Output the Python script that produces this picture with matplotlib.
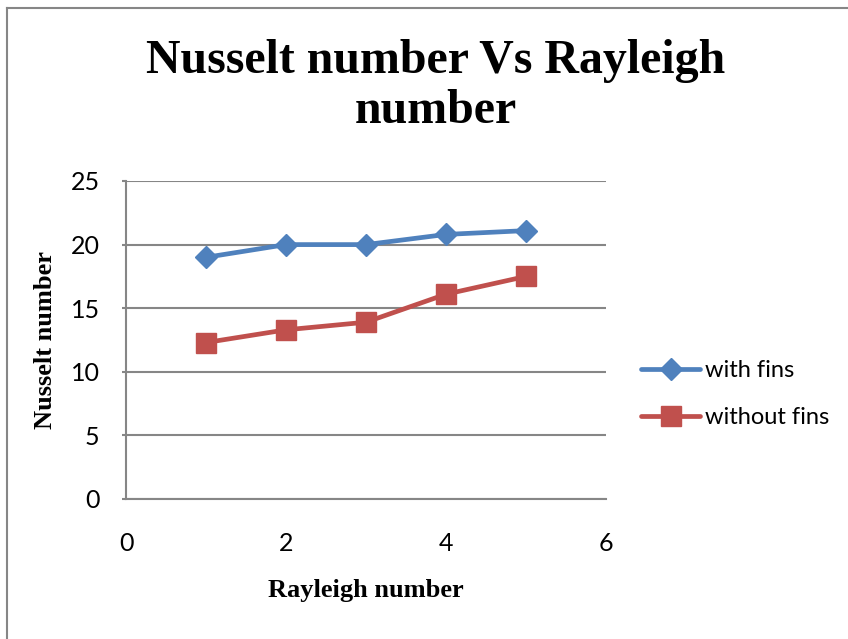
import matplotlib
matplotlib.use('Agg')
import matplotlib.pyplot as plt
from matplotlib.lines import Line2D

rayleigh = [1, 2, 3, 4, 5]
with_fins = [19.0, 20.0, 20.0, 20.8, 21.1]
without_fins = [12.3, 13.3, 13.9, 16.1, 17.5]
x_ticks = [0, 2, 4, 6]
y_ticks = [0, 5, 10, 15, 20, 25]

blue = '#4F81BD'
red = '#C0504D'
grey = '#868686'

fig = plt.figure(figsize=(8.48, 6.39), dpi=100)
fig.patch.set_facecolor('white')

# outer chart frame (left and top edges only are visible)
fig.add_artist(Line2D([7 / 848, 7 / 848], [0, 1 - 8 / 639], transform=fig.transFigure,
                      color=grey, lw=1.5))
fig.add_artist(Line2D([7 / 848, 1], [1 - 8 / 639, 1 - 8 / 639], transform=fig.transFigure,
                      color=grey, lw=1.5))

ax = fig.add_axes([126 / 848, 1 - 499 / 639, 480 / 848, 318 / 639])

ax.plot(rayleigh, with_fins, color=blue, lw=3.4, marker='D', markersize=11.5,
        label='with fins', solid_joinstyle='round', solid_capstyle='round')
ax.plot(rayleigh, without_fins, color=red, lw=3.4, marker='s', markersize=14,
        label='without fins', solid_joinstyle='round', solid_capstyle='round')

ax.set_xlim(0, 6)
ax.set_ylim(0, 25)
ax.set_xticks(x_ticks)
ax.set_yticks(y_ticks)

ax.yaxis.grid(True, color=grey, lw=1.5)
ax.set_axisbelow(True)
for side in ['top', 'right']:
    ax.spines[side].set_visible(False)
for side in ['left', 'bottom']:
    ax.spines[side].set_color(grey)
    ax.spines[side].set_linewidth(1.5)

ax.tick_params(axis='y', length=3, color=grey, width=1.5, pad=16, labelsize=18)
ax.tick_params(axis='x', length=0, pad=24, labelsize=18)
for lbl in ax.get_xticklabels() + ax.get_yticklabels():
    lbl.set_fontfamily('Lato')

ax.set_xlabel('Rayleigh number', fontfamily='Liberation Serif', fontweight='bold',
              fontsize=19, labelpad=17)
ax.set_ylabel('Nusselt number', fontfamily='Liberation Serif', fontweight='bold',
              fontsize=19, labelpad=10)

fig.text(436 / 848, 1 - 86 / 639, 'Nusselt number Vs Rayleigh\nnumber', ha='center', va='center',
         fontfamily='Liberation Serif', fontweight='bold', fontsize=34.5, linespacing=1.15)

ax.legend(loc='center left', bbox_to_anchor=(620 / 848, 1 - 394 / 639),
          bbox_transform=fig.transFigure, frameon=False,
          prop={'family': 'Lato', 'size': 17}, handlelength=2.5, handletextpad=0.2,
          labelspacing=1.1)

fig.savefig('out.png', dpi=100)
